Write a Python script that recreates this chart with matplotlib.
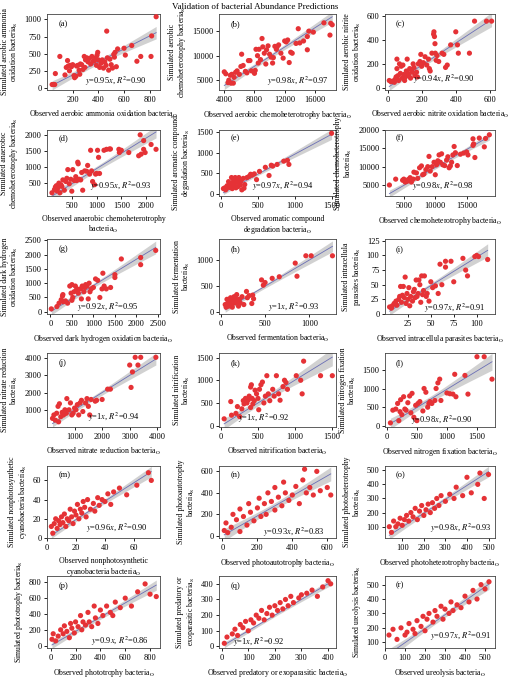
import matplotlib
matplotlib.use("Agg")
import matplotlib.pyplot as plt
import numpy as np

plt.rcParams['font.family'] = ['Liberation Serif', 'DejaVu Serif']
plt.rcParams['mathtext.fontset'] = 'stix'

# ---- data ----
a_x = [40, 50, 60, 65, 100, 140, 150, 160, 165, 175, 180, 190, 200, 210, 215, 225, 230, 240, 250, 255, 260, 270, 280, 290, 295, 300, 310, 320, 330, 340, 350, 360, 370, 380, 385, 390, 395, 400, 410, 420, 430, 440, 450, 460, 465, 470, 480, 490, 500, 510, 520, 525, 530, 540, 550, 600, 610, 660, 700, 730, 810, 815, 850]
a_y = [50, 50, 50, 210, 460, 190, 300, 400, 320, 250, 330, 310, 340, 180, 150, 170, 320, 330, 260, 200, 350, 340, 270, 460, 300, 410, 440, 380, 430, 350, 460, 390, 400, 440, 330, 480, 520, 410, 300, 360, 410, 290, 380, 330, 830, 440, 260, 420, 340, 290, 490, 450, 520, 310, 570, 580, 480, 620, 390, 460, 460, 760, 1040]

b_x = [4000, 4200, 4500, 4600, 4800, 4900, 5000, 5200, 5300, 5500, 5700, 6000, 6200, 6300, 6500, 6800, 7000, 7200, 7400, 7600, 8000, 8100, 8200, 8400, 8500, 8600, 8800, 9000, 9100, 9300, 9500, 9600, 9800, 10000, 10200, 10400, 10500, 10700, 10900, 11000, 11200, 11500, 11800, 12000, 12200, 12400, 12600, 12800, 13000, 13500, 13800, 14000, 14500, 15000, 15000, 15200, 15800, 17200, 18000, 18100, 18300]
b_y = [6700, 6300, 4500, 5000, 6000, 4400, 6200, 4400, 5600, 6600, 6900, 6200, 7800, 10300, 8000, 6800, 6500, 9000, 9000, 6900, 6400, 7000, 11300, 10000, 8500, 11300, 9200, 13500, 11800, 10500, 8300, 11200, 12000, 10300, 9700, 8500, 9600, 11900, 11300, 11800, 12200, 10500, 9500, 13000, 12800, 13200, 8600, 10700, 10500, 12500, 15500, 12600, 13000, 11200, 13900, 15000, 14800, 16700, 14200, 16600, 16300]

c_x = [10, 20, 30, 40, 45, 50, 55, 55, 60, 65, 70, 75, 80, 85, 90, 95, 100, 105, 110, 115, 120, 125, 130, 135, 140, 145, 150, 155, 160, 170, 175, 180, 190, 195, 200, 210, 220, 230, 240, 245, 250, 260, 270, 272, 275, 278, 280, 285, 290, 300, 320, 330, 340, 350, 370, 400, 410, 415, 480, 510, 580, 610]
c_y = [60, 50, 55, 45, 70, 90, 160, 240, 100, 60, 200, 120, 180, 80, 190, 110, 60, 90, 140, 240, 120, 100, 160, 80, 150, 130, 200, 170, 100, 130, 90, 200, 220, 280, 180, 210, 260, 190, 240, 160, 140, 290, 450, 470, 430, 370, 290, 230, 270, 220, 290, 280, 170, 190, 360, 470, 360, 290, 290, 560, 560, 560]

d_x = [100, 150, 170, 190, 200, 220, 240, 260, 280, 300, 320, 350, 380, 400, 420, 450, 480, 500, 520, 550, 580, 600, 620, 630, 650, 680, 700, 720, 760, 800, 820, 860, 880, 900, 920, 960, 980, 1000, 1020, 1040, 1060, 1150, 1200, 1260, 1280, 1450, 1460, 1500, 1650, 1850, 1880, 1900, 1950, 1950, 1980, 2100, 2200]
d_y = [200, 300, 380, 420, 260, 350, 500, 200, 450, 400, 600, 280, 550, 650, 920, 480, 620, 250, 920, 580, 700, 580, 1150, 1100, 620, 600, 830, 280, 880, 870, 1050, 780, 1520, 880, 550, 450, 780, 800, 1520, 1300, 800, 1520, 1550, 1560, 1560, 1550, 1450, 1520, 1450, 1350, 2000, 1400, 1820, 1550, 1450, 1700, 1550]

e_x = [30, 50, 60, 80, 100, 100, 110, 120, 130, 140, 150, 160, 170, 180, 190, 200, 210, 220, 230, 240, 250, 260, 270, 280, 300, 310, 320, 350, 380, 400, 420, 450, 480, 520, 600, 650, 680, 700, 760, 850, 900, 920, 1500]
e_y = [130, 150, 100, 200, 170, 300, 160, 250, 190, 400, 130, 280, 330, 220, 400, 150, 300, 350, 180, 400, 260, 220, 320, 100, 380, 140, 230, 400, 430, 480, 460, 490, 350, 550, 650, 450, 700, 680, 720, 800, 820, 720, 1480]

f_x = [2700, 3700, 4800, 5000, 5200, 5500, 5700, 6000, 6200, 6500, 6600, 7000, 7200, 7500, 7800, 8000, 8200, 8500, 8800, 9000, 9200, 9500, 9800, 10000, 10200, 10400, 10600, 10800, 11000, 11200, 11500, 11800, 12000, 12200, 12400, 12600, 12800, 13000, 13200, 13500, 14000, 14500, 15000, 15200, 16000, 16000, 16100, 16300, 17000, 17800, 18000, 18600]
f_y = [5000, 6600, 6300, 6600, 5800, 6000, 6500, 7000, 5800, 6600, 8500, 8300, 6800, 9700, 10200, 7800, 8000, 9200, 10000, 12800, 8800, 10000, 11200, 7800, 10500, 11600, 13200, 11200, 13500, 10500, 10300, 11800, 12700, 9700, 10200, 11200, 13200, 15500, 13800, 10300, 13400, 13700, 14000, 13200, 17600, 15800, 16200, 12500, 17800, 15400, 17700, 18700]

g_x = [20, 150, 200, 250, 280, 290, 300, 350, 400, 450, 480, 500, 500, 520, 550, 580, 600, 620, 650, 700, 720, 740, 780, 800, 820, 850, 880, 900, 920, 950, 1000, 1050, 1100, 1150, 1200, 1220, 1250, 1300, 1400, 1500, 1500, 1650, 2100, 2100, 2450]
g_y = [100, 180, 300, 420, 550, 600, 350, 380, 300, 900, 650, 400, 950, 500, 700, 900, 750, 800, 650, 800, 450, 900, 700, 850, 950, 900, 450, 1000, 700, 800, 850, 1150, 1100, 500, 800, 1350, 900, 800, 850, 1300, 1200, 1850, 1900, 1650, 2150]

h_x = [50, 60, 70, 80, 90, 100, 110, 120, 130, 140, 150, 160, 170, 180, 190, 200, 210, 220, 240, 260, 290, 300, 320, 350, 360, 370, 460, 480, 500, 580, 660, 840, 860, 960, 1020, 1260]
h_y = [150, 100, 250, 180, 120, 200, 280, 150, 100, 230, 300, 180, 260, 340, 200, 120, 250, 180, 300, 150, 400, 280, 320, 170, 330, 260, 620, 520, 570, 650, 680, 940, 690, 1080, 1080, 1080]

i_x = [5, 7, 8, 10, 12, 13, 15, 16, 17, 18, 19, 20, 21, 22, 23, 24, 25, 26, 27, 28, 30, 31, 32, 33, 34, 35, 36, 37, 38, 39, 40, 41, 42, 43, 45, 46, 48, 50, 52, 55, 58, 60, 62, 66, 66, 72, 75, 85, 88, 90, 98, 100, 102, 112]
i_y = [12, 10, 14, 18, 22, 15, 25, 30, 47, 20, 32, 47, 28, 63, 18, 35, 25, 45, 14, 30, 22, 38, 42, 28, 58, 30, 35, 58, 50, 20, 65, 33, 40, 65, 30, 35, 22, 55, 45, 48, 35, 85, 50, 90, 80, 90, 55, 95, 75, 65, 98, 100, 98, 93]

j_x = [200, 250, 300, 350, 400, 420, 450, 500, 550, 600, 650, 700, 720, 800, 850, 900, 950, 1000, 1050, 1100, 1150, 1200, 1250, 1300, 1400, 1450, 1500, 1550, 1600, 1750, 1800, 2000, 2200, 2300, 3000, 3100, 3050, 3200, 3300, 3400, 3950]
j_y = [500, 700, 400, 800, 1200, 300, 1350, 600, 850, 700, 1000, 800, 1650, 1000, 1400, 700, 800, 1100, 1000, 1300, 700, 1400, 1550, 900, 1400, 1650, 1200, 700, 1600, 1500, 1550, 1600, 2200, 2200, 3600, 3200, 2300, 4050, 3600, 4050, 4050]

k_x = [40, 130, 140, 200, 220, 250, 280, 300, 310, 330, 350, 370, 380, 400, 400, 410, 420, 430, 450, 460, 480, 500, 510, 520, 540, 560, 580, 600, 620, 640, 660, 700, 720, 750, 780, 800, 840, 860, 880, 900, 1020, 1080, 1100, 1120, 1350, 1510]
k_y = [150, 530, 230, 270, 420, 200, 370, 550, 480, 600, 500, 570, 650, 400, 850, 900, 600, 480, 550, 780, 700, 600, 350, 800, 900, 960, 500, 650, 1100, 700, 550, 800, 650, 1100, 700, 560, 860, 1000, 950, 800, 1100, 1000, 700, 1420, 1100, 1100]

l_x = [60, 100, 150, 180, 200, 220, 230, 250, 280, 300, 320, 350, 380, 400, 420, 450, 480, 500, 520, 550, 600, 620, 650, 680, 700, 720, 750, 800, 820, 850, 880, 900, 1000, 1050, 1100, 1130, 1150, 1300, 1350, 1500, 1620, 1750]
l_y = [80, 420, 450, 600, 140, 380, 700, 300, 780, 450, 420, 620, 800, 350, 870, 230, 550, 140, 600, 650, 400, 1000, 900, 500, 600, 650, 600, 680, 1000, 1150, 1250, 680, 880, 860, 850, 1380, 780, 1350, 850, 1850, 1850, 1250]

m_x = [3, 4, 5, 6, 7, 8, 9, 10, 11, 12, 13, 14, 15, 16, 17, 18, 19, 20, 21, 22, 23, 24, 25, 26, 27, 28, 30, 32, 33, 35, 36, 38, 40, 42, 44, 46, 50, 55, 62, 70, 72]
m_y = [12, 5, 15, 20, 10, 18, 14, 22, 16, 25, 12, 20, 18, 30, 22, 15, 28, 24, 35, 20, 30, 26, 38, 32, 22, 40, 30, 36, 28, 42, 34, 40, 38, 46, 35, 48, 52, 45, 55, 68, 60]

n_x = [10, 20, 30, 50, 60, 80, 100, 100, 120, 140, 150, 160, 180, 200, 210, 220, 240, 250, 260, 280, 300, 300, 320, 340, 350, 360, 380, 400, 420, 440, 460, 470, 480, 500, 520, 540, 560, 600, 620]
n_y = [50, 120, 30, 80, 200, 150, 40, 250, 180, 100, 300, 220, 140, 260, 350, 180, 300, 200, 400, 320, 240, 450, 360, 280, 500, 400, 330, 380, 460, 300, 520, 620, 400, 450, 380, 600, 420, 450, 380]

o_x = [40, 50, 60, 70, 80, 90, 100, 110, 120, 130, 140, 150, 160, 170, 180, 190, 200, 210, 220, 230, 240, 250, 260, 270, 280, 300, 320, 340, 350, 380, 400, 420, 450, 460, 480, 500]
o_y = [100, 60, 140, 100, 120, 160, 110, 150, 180, 140, 200, 170, 230, 150, 210, 250, 180, 220, 260, 200, 270, 230, 300, 250, 320, 280, 330, 300, 380, 320, 450, 340, 400, 480, 300, 470]

p_x = [10, 20, 40, 60, 80, 100, 110, 130, 150, 160, 170, 190, 200, 220, 240, 250, 260, 280, 300, 310, 330, 350, 360, 380, 400, 420, 450, 480, 500, 520, 560, 600, 650, 700, 760, 800, 850]
p_y = [80, 150, 60, 120, 200, 150, 250, 180, 100, 280, 220, 160, 300, 240, 380, 200, 300, 260, 420, 300, 240, 500, 350, 280, 450, 380, 500, 420, 380, 550, 480, 600, 500, 680, 780, 650, 620]

q_x = [10, 20, 40, 50, 60, 70, 80, 90, 100, 110, 120, 130, 140, 150, 160, 170, 180, 190, 200, 210, 220, 230, 240, 250, 260, 270, 290, 300, 320, 340, 360, 380, 400, 410]
q_y = [20, 60, 80, 110, 70, 140, 120, 160, 100, 170, 150, 200, 180, 230, 170, 210, 250, 200, 260, 230, 280, 240, 300, 260, 320, 280, 310, 330, 340, 360, 320, 380, 420, 400]

r_x = [20, 40, 60, 80, 100, 110, 120, 140, 150, 160, 180, 190, 200, 210, 220, 240, 250, 260, 280, 290, 300, 320, 330, 340, 360, 380, 400, 420, 440, 460, 480, 500, 520]
r_y = [150, 190, 120, 200, 150, 170, 230, 190, 160, 250, 210, 280, 180, 260, 300, 240, 320, 280, 350, 260, 330, 300, 380, 320, 360, 340, 420, 380, 460, 400, 500, 470, 520]

xs = [a_x, b_x, c_x, d_x, e_x, f_x, g_x, h_x, i_x, j_x, k_x, l_x, m_x, n_x, o_x, p_x, q_x, r_x]
ys = [a_y, b_y, c_y, d_y, e_y, f_y, g_y, h_y, i_y, j_y, k_y, l_y, m_y, n_y, o_y, p_y, q_y, r_y]

slopes = [0.95, 0.98, 0.94, 0.95, 0.97, 0.98, 0.92, 1, 0.97, 1, 1, 0.98, 0.96, 0.93, 0.98, 0.9, 1, 0.97]
r2 = ["0.90", "0.97", "0.90", "0.93", "0.94", "0.98", "0.95", "0.93", "0.91", "0.94", "0.92", "0.90", "0.90", "0.83", "0.93", "0.86", "0.92", "0.91"]
slope_txt = ["0.95", "0.98", "0.94", "0.95", "0.97", "0.98", "0.92", "1", "0.97", "1", "1", "0.98", "0.96", "0.93", "0.98", "0.9", "1", "0.97"]

S = r"$_\mathrm{S}$"
O = r"$_\mathrm{O}$"
ylabels = ["Simulated aerobic ammonia\noxidation bacteria" + S,
           "Simulated aerobic\nchemoheterotrophy bacteria" + S,
           "Simulated aerobic nitrite\noxidation bacteria" + S,
           "Simulated anaerobic\nchemoheterotrophy bacteria" + S,
           "Simulated aromatic compound\ndegradation bacteria" + S,
           "Simulated chemoheterotrophy\nbacteria" + S,
           "Simulated dark hydrogen\noxidation bacteria" + S,
           "Simulated fermentation\nbacteria" + S,
           "Simulated intracellula\nparasites bacteria" + S,
           "Simulated nitrate reduction\nbacteria" + S,
           "Simulated nitrification\nbacteria" + S,
           "Simulated nitrogen fixation\nbacteria" + S,
           "Simulated nonphotosynthetic\ncyanobacteria bacteria" + S,
           "Simulated photoautotrophy\nbacteria" + S,
           "Simulated photoheterotrophy\nbacteria" + S,
           "Simulated phototrophy bacteria" + S,
           "Simulated predatory or\nexoparasitic bacteria" + S,
           "Simulated ureolysis bacteria" + S]
xlabels = ["Observed aerobic ammonia oxidation bacteria" + O,
           "Observed aerobic chemoheterotrophy bacteria" + O,
           "Observed aerobic nitrite oxidation bacteria" + O,
           "Observed anaerobic chemoheterotrophy\nbacteria" + O,
           "Observed aromatic compound\ndegradation bacteria" + O,
           "Observed chemoheterotrophy bacteria" + O,
           "Observed dark hydrogen oxidation bacteria" + O,
           "Observed fermentation bacteria" + O,
           "Observed intracellula parasites bacteria" + O,
           "Observed nitrate reduction bacteria" + O,
           "Observed nitrification bacteria" + O,
           "Observed nitrogen fixation bacteria" + O,
           "Observed nonphotosynthetic\ncyanobacteria bacteria" + O,
           "Observed photoautotrophy bacteria" + O,
           "Observed photoheterotrophy bacteria" + O,
           "Observed phototrophy bacteria" + O,
           "Observed predatory or exoparasitic bacteria" + O,
           "Observed ureolysis bacteria" + O]
letters = "abcdefghijklmnopqr"

xlims = [(0, 880), (3300, 18800), (-15, 630), (0, 2280), (-30, 1560), (2000, 19500),
         (-80, 2550), (-20, 1300), (0, 120), (0, 4100), (-30, 1560), (-30, 1800),
         (0, 78), (-20, 650), (20, 530), (-30, 880), (-10, 430), (0, 550)]
ylims = [(-30, 1080), (3000, 18500), (-20, 620), (100, 2150), (-50, 1560), (2000, 20000),
         (-80, 2550), (-30, 1400), (0, 128), (0, 4300), (-30, 1600), (-30, 1950),
         (0, 75), (-20, 650), (20, 530), (-30, 880), (-10, 450), (60, 560)]
xticks = [[200, 400, 600, 800], [4000, 8000, 12000, 16000], [0, 200, 400, 600],
          [500, 1000, 1500, 2000], [0, 500, 1000, 1500], [5000, 10000, 15000],
          [0, 500, 1000, 1500, 2000, 2500], [0, 500, 1000], [25, 50, 75, 100],
          [1000, 2000, 3000, 4000], [0, 500, 1000, 1500], [0, 500, 1000, 1500],
          [0, 20, 40, 60], [0, 200, 400, 600], [100, 200, 300, 400, 500],
          [0, 200, 400, 600, 800], [0, 100, 200, 300, 400], [0, 100, 200, 300, 400, 500]]
yticks = [[0, 250, 500, 750, 1000], [5000, 10000, 15000], [0, 200, 400, 600],
          [500, 1000, 1500, 2000], [0, 500, 1000, 1500], [5000, 10000, 15000, 20000],
          [0, 500, 1000, 1500, 2000, 2500], [0, 500, 1000], [0, 25, 50, 75, 100, 125],
          [1000, 2000, 3000, 4000], [0, 500, 1000, 1500], [0, 500, 1000, 1500],
          [0, 20, 40, 60], [0, 200, 400, 600], [100, 200, 300, 400, 500],
          [0, 200, 400, 600, 800], [0, 100, 200, 300, 400], [100, 200, 300, 400, 500]]
# right edge of the fit annotation, in axes fraction
ann_pos = [(0.88, 0.08), (0.94, 0.08), (0.82, 0.1), (0.93, 0.1), (0.81, 0.1), (0.81, 0.1),
           (0.81, 0.06), (0.86, 0.06), (0.91, 0.04), (0.82, 0.1), (0.6, 0.08), (0.8, 0.06),
           (0.89, 0.1), (0.9, 0.04), (0.97, 0.1), (0.9, 0.06), (0.56, 0.04), (0.97, 0.12)]

W, H = 510, 681
FS = 6
LFS = 5.6
fig = plt.figure(figsize=(W / 100, H / 100), dpi=100)
fig.text(0.5, 1 - 7 / H, "Validation of bacterial Abundance Predictions",
         ha="center", va="center", fontsize=6.5)

col_left = [47, 219, 385]
col_w = [113, 117, 110]
row_top = [14, 130, 239, 353, 466, 576]
row_h = [76, 66, 75, 74, 72, 72]

red = "#e53236"
for k in range(18):
    r, c = divmod(k, 3)
    ax = fig.add_axes([col_left[c] / W, 1 - (row_top[r] + row_h[r]) / H,
                       col_w[c] / W, row_h[r] / H])
    x = np.array(xs[k], dtype=float)
    y = np.array(ys[k], dtype=float)
    b = slopes[k]
    # line y = b x with a confidence band from the residuals
    xx = np.linspace(x.min(), x.max(), 100)
    n = len(x)
    res = y - b * x
    s = np.sqrt(np.sum((res - res.mean()) ** 2) / (n - 2))
    se = s * np.sqrt(1 / n + (xx - x.mean()) ** 2 / np.sum((x - x.mean()) ** 2))
    fit = b * xx
    ax.fill_between(xx, fit - 1.96 * se, fit + 1.96 * se, color="#9a9a9a", alpha=0.45, lw=0)
    ax.plot(xx, fit, color="#6b6fb5", lw=0.6)
    ax.scatter(x, y, s=14, color=red, edgecolors="none", zorder=3)

    ax.set_xlim(*xlims[k])
    ax.set_ylim(*ylims[k])
    ax.set_xticks(xticks[k])
    ax.set_yticks(yticks[k])
    ax.tick_params(labelsize=FS, length=2.5, width=0.6, pad=1.5)
    for sp in ax.spines.values():
        sp.set_linewidth(0.6)
        sp.set_color("#444444")
    ax.set_xlabel(xlabels[k], fontsize=LFS, labelpad=4, linespacing=1.05)
    ax.set_ylabel(ylabels[k], fontsize=LFS, labelpad=3, linespacing=1.05)
    ax.text(0.1, 0.84, "(" + letters[k] + ")", transform=ax.transAxes, fontsize=FS)
    ax.text(ann_pos[k][0], ann_pos[k][1],
            "$y$=" + slope_txt[k] + "$x$, $R^2$=" + r2[k],
            transform=ax.transAxes, fontsize=FS, ha="right")

fig.savefig("out.png", dpi=100)
